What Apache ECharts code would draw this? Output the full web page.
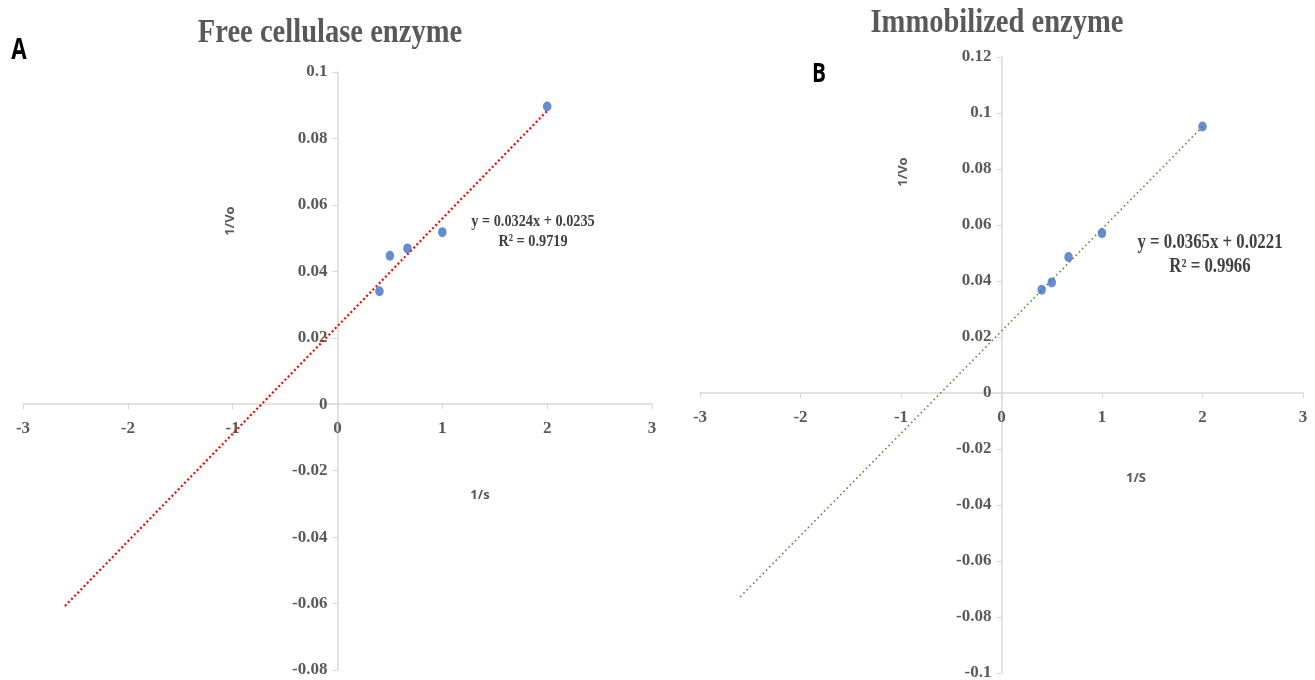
<!DOCTYPE html>
<html>
<head>
<meta charset="utf-8">
<script src="https://cdn.jsdelivr.net/npm/echarts@6/dist/echarts.min.js"></script>
<style>
  html, body { margin: 0; padding: 0; background: #fff; }
  #chart { width: 1315px; height: 680px; }
</style>
</head>
<body>
<div id="chart"></div>
<script>
// Lineweaver–Burk data: 1/[S] against 1/Vo
const invS_free = [0.4, 0.5, 0.667, 1, 2];
const invV_free = [0.034, 0.0447, 0.0469, 0.0518, 0.0896];
const invS_immob = [0.4, 0.5, 0.667, 1, 2];
const invV_immob = [0.0369, 0.0395, 0.0486, 0.0571, 0.0952];

// Linear trendlines as printed on each panel
const fitFree = { slope: 0.0324, intercept: 0.0235, r2: '0.9719' };
const fitImmob = { slope: 0.0365, intercept: 0.0221, r2: '0.9966' };
const trendRange = [-2.6, 2];

// Tick labels
const xTickLabels = ['-3', '-2', '-1', '0', '1', '2', '3'];
const yTickLabelsFree = ['-0.08', '-0.06', '-0.04', '-0.02', '0', '0.02', '0.04', '0.06', '0.08', '0.1'];
const yTickLabelsImmob = ['-0.1', '-0.08', '-0.06', '-0.04', '-0.02', '0', '0.02', '0.04', '0.06', '0.08', '0.1', '0.12'];

function labelFor(list) {
  return function (v) {
    for (const s of list) { if (Math.abs(parseFloat(s) - v) < 1e-9) return s; }
    return '';
  };
}
function trendPoints(fit) {
  return trendRange.map(x => [x, +(fit.slope * x + fit.intercept).toFixed(6)]);
}

const serif = '"Liberation Serif", "Times New Roman", serif';
const sans = '"Open Sans", "Liberation Sans", sans-serif';
const gray = '#595959';
const axisGray = '#d9d9d9';

const grids = [
  { left: 23, top: 72, width: 629, height: 598, outerBoundsMode: 'none', containLabel: false },
  { left: 700, top: 57, width: 603, height: 616, outerBoundsMode: 'none', containLabel: false }
];
const xRange = [-3, 3];
const yRanges = [[-0.08, 0.1], [-0.1, 0.12]];

// Axes cross at the origin: shift each axis inward to the zero line of the other
function xAxisCfg(gi) {
  const [ymin, ymax] = yRanges[gi];
  return {
    gridIndex: gi, type: 'value', min: xRange[0], max: xRange[1], interval: 1,
    position: 'bottom',
    offset: -grids[gi].height * (0 - ymin) / (ymax - ymin),
    axisLine: { onZero: false, lineStyle: { color: axisGray, width: 1.5 } },
    axisTick: { show: true, length: 5, lineStyle: { color: axisGray } },
    splitLine: { show: false },
    axisLabel: { color: gray, fontFamily: serif, fontWeight: 'bold', fontSize: 17, margin: 16,
                 formatter: labelFor(xTickLabels) }
  };
}
function yAxisCfg(gi, labels) {
  const [ymin, ymax] = yRanges[gi];
  return {
    gridIndex: gi, type: 'value', min: ymin, max: ymax, interval: 0.02,
    position: 'left',
    offset: -grids[gi].width * (0 - xRange[0]) / (xRange[1] - xRange[0]),
    axisLine: { onZero: false, lineStyle: { color: axisGray, width: 1.5 } },
    axisTick: { show: true, length: 5, lineStyle: { color: axisGray } },
    splitLine: { show: false },
    axisLabel: { color: gray, fontFamily: serif, fontWeight: 'bold', fontSize: 17, margin: 10,
                 formatter: labelFor(labels) }
  };
}

function txt(x, y, text, font, fill, extra) {
  return Object.assign({
    type: 'text', x, y, z: 100,
    style: { text, font, fill, align: 'center', verticalAlign: 'middle' }
  }, extra || {});
}

const option = {
  animation: false,
  backgroundColor: '#ffffff',
  grid: grids,
  xAxis: [xAxisCfg(0), xAxisCfg(1)],
  yAxis: [yAxisCfg(0, yTickLabelsFree), yAxisCfg(1, yTickLabelsImmob)],
  series: [
    {
      type: 'line', xAxisIndex: 0, yAxisIndex: 0, data: trendPoints(fitFree),
      showSymbol: false, silent: true, z: 2,
      lineStyle: { color: '#ff0000', width: 2.2, type: [2, 2.5] }
    },
    {
      type: 'scatter', xAxisIndex: 0, yAxisIndex: 0, z: 3,
      data: invS_free.map((x, i) => [x, invV_free[i]]),
      symbolSize: [8.5, 10], itemStyle: { color: '#4070c4' }
    },
    {
      type: 'line', xAxisIndex: 1, yAxisIndex: 1, data: trendPoints(fitImmob),
      showSymbol: false, silent: true, z: 2,
      lineStyle: { color: '#5e8c31', width: 1.6, type: [1.6, 3] }
    },
    {
      type: 'scatter', xAxisIndex: 1, yAxisIndex: 1, z: 3,
      data: invS_immob.map((x, i) => [x, invV_immob[i]]),
      symbolSize: [8.5, 10], itemStyle: { color: '#4070c4' }
    }
  ],
  graphic: [
    // panel titles
    txt(330, 33, 'Free cellulase enzyme', 'bold 34px ' + serif, gray, { scaleX: 0.84 }),
    txt(997, 23, 'Immobilized enzyme', 'bold 34px ' + serif, gray, { scaleX: 0.84 }),
    // panel letters
    txt(19, 51, 'A', 'bold 28px ' + sans, '#000000', { scaleX: 0.8 }),
    txt(819, 75, 'B', 'bold 26px ' + sans, '#000000', { scaleX: 0.8 }),
    // axis names
    txt(230, 221, '1/Vo', 'bold 13px ' + sans, gray, { rotation: Math.PI / 2 }),
    txt(480, 495, '1/s', 'bold 13px ' + sans, gray),
    txt(903, 172, '1/Vo', 'bold 13px ' + sans, gray, { rotation: Math.PI / 2 }),
    txt(1136, 478, '1/S', 'bold 13px ' + sans, gray),
    // trendline equations
    txt(533, 222, 'y = ' + fitFree.slope + 'x + ' + fitFree.intercept, 'bold 17px ' + serif, '#404040', { scaleX: 0.84 }),
    txt(533, 242, 'R² = ' + fitFree.r2, 'bold 17px ' + serif, '#404040', { scaleX: 0.84 }),
    txt(1210, 243, 'y = ' + fitImmob.slope + 'x + ' + fitImmob.intercept, 'bold 20px ' + serif, '#404040', { scaleX: 0.84 }),
    txt(1210, 267, 'R² = ' + fitImmob.r2, 'bold 20px ' + serif, '#404040', { scaleX: 0.84 })
  ]
};

const chart = echarts.init(document.getElementById('chart'), null, { renderer: 'canvas' });
chart.setOption(option);
</script>
</body>
</html>
